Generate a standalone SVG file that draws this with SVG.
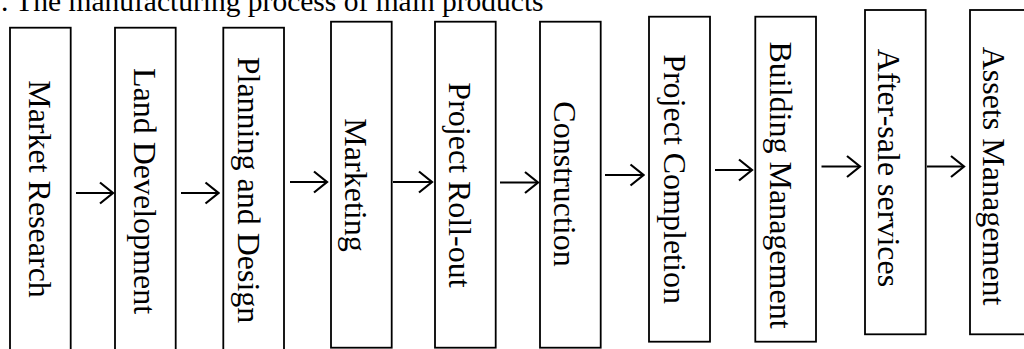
<svg xmlns="http://www.w3.org/2000/svg" width="1024" height="349" viewBox="0 0 1024 349">
<defs>
<style>
.box{fill:#fff;stroke:#000;stroke-width:1.8}
.lbl{font-family:"Liberation Serif","Times New Roman",serif;font-size:32px;fill:#000;text-anchor:middle}
.title{font-family:"Liberation Serif","Times New Roman",serif;font-size:29.5px;fill:#000}
.conn line{stroke:#000;stroke-width:2;fill:none}
</style>
<marker id="arr" viewBox="0 0 16 24" refX="14.5" refY="12" markerWidth="16" markerHeight="24" markerUnits="userSpaceOnUse" orient="auto">
<path d="M1.5,1.5 L14.5,12 L1.5,22.5" fill="none" stroke="#000" stroke-width="2.2"/>
</marker>
</defs>
<rect width="1024" height="349" fill="#fff"/>
<text class="title" x="1" y="11">. The manufacturing process of main products</text>

<g id="n1"><rect class="box" x="10" y="27.7" width="60.7" height="330"/><text class="lbl" transform="translate(29,189) rotate(90)">Market Research</text></g>
<g id="n2"><rect class="box" x="115" y="27.7" width="60.7" height="330"/><text class="lbl" transform="translate(134,191) rotate(90)">Land Development</text></g>
<g id="n3"><rect class="box" x="223.3" y="27.7" width="60.7" height="330"/><text class="lbl" transform="translate(238,190) rotate(90)">Planning and Design</text></g>
<g id="n4"><rect class="box" x="331" y="21.7" width="60.7" height="326"/><text class="lbl" transform="translate(345,185) rotate(90)">Marketing</text></g>
<g id="n5"><rect class="box" x="435" y="21.7" width="60.7" height="326"/><text class="lbl" transform="translate(448.5,185) rotate(90)">Project Roll-out</text></g>
<g id="n6"><rect class="box" x="540" y="21.7" width="60.7" height="326"/><text class="lbl" transform="translate(553.5,184) rotate(90)">Construction</text></g>
<g id="n7"><rect class="box" x="649" y="16.7" width="61" height="325"/><text class="lbl" transform="translate(663.5,179) rotate(90)">Project Completion</text></g>
<g id="n8"><rect class="box" x="755.3" y="16.7" width="60.7" height="325"/><text class="lbl" transform="translate(770,185) rotate(90)">Building Management</text></g>
<g id="n9"><rect class="box" x="865" y="10" width="60.7" height="324.3"/><text class="lbl" transform="translate(878,168) rotate(90)">After-sale services</text></g>
<g id="n10"><rect class="box" x="970" y="10" width="70" height="324.3"/><text class="lbl" transform="translate(983,176) rotate(90)">Assets Management</text></g>

<g id="connectors" class="conn">
<line x1="76" y1="193" x2="113" y2="193" marker-end="url(#arr)"/>
<line x1="181" y1="193" x2="218.5" y2="193" marker-end="url(#arr)"/>
<line x1="290" y1="182" x2="327" y2="182" marker-end="url(#arr)"/>
<line x1="393" y1="182" x2="432" y2="182" marker-end="url(#arr)"/>
<line x1="500" y1="182.5" x2="538" y2="182.5" marker-end="url(#arr)"/>
<line x1="605" y1="175" x2="643.5" y2="175" marker-end="url(#arr)"/>
<line x1="715" y1="170" x2="752" y2="170" marker-end="url(#arr)"/>
<line x1="821.5" y1="166.5" x2="860" y2="166.5" marker-end="url(#arr)"/>
<line x1="927" y1="166.5" x2="964" y2="166.5" marker-end="url(#arr)"/>
</g>
</svg>
